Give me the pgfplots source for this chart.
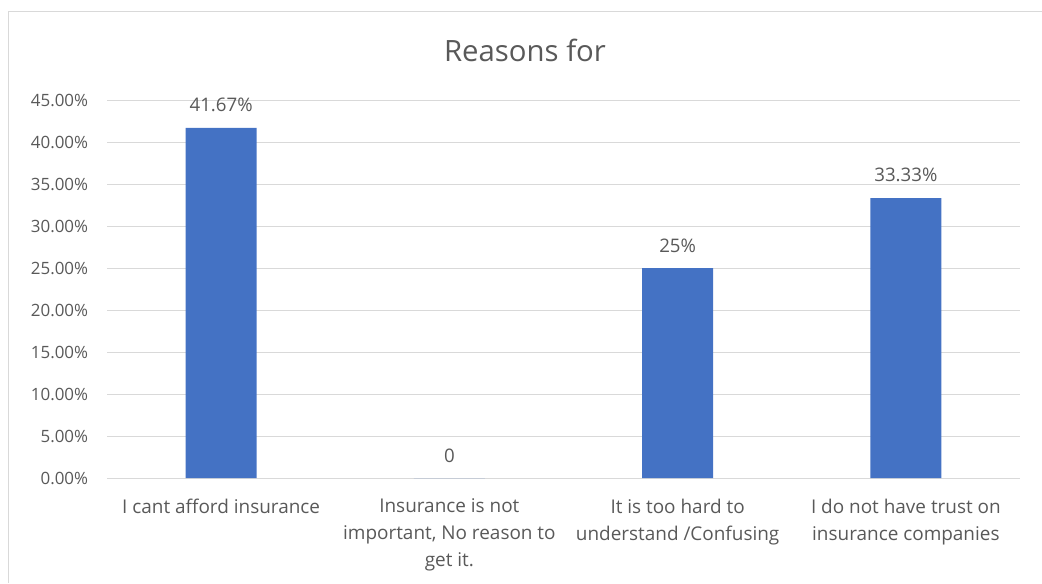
\documentclass[border=0pt]{standalone}
\usepackage{pgfplots}
\pgfplotsset{compat=1.18}
\usepackage{fontspec}
\setmainfont{Open Sans}
\definecolor{barblue}{HTML}{4472C4}
\definecolor{txt}{HTML}{595959}
\definecolor{gridc}{HTML}{D9D9D9}
\begin{document}
\begin{tikzpicture}[x=0.75pt,y=0.75pt]
\path[use as bounding box] (0,0) rectangle (1042,583);
\draw[color=gridc, line width=0.75pt] (8,0) -- (8,571) -- (1042,571);
\node[text=txt, font=\fontsize{22}{26}\selectfont, inner sep=0pt] at (525,533) {Reasons for};
\begin{axis}[
  at={(80.25pt,78.75pt)}, anchor=south west, scale only axis,
  width=684.75pt, height=283.5pt,
  ymin=0, ymax=45, xmin=-0.5, xmax=3.5,
  ytick={0,5,...,45},
  /pgf/number format/assume math mode=true,
  yticklabel={\pgfmathprintnumber[fixed,fixed zerofill,precision=2]{\tick}\%},
  yticklabel style={anchor=east, inner sep=0pt, xshift=-14pt, text=txt, font=\fontsize{12.7}{15}\selectfont},
  xtick={0,1,2,3},
  xticklabels={{I cant afford insurance},{Insurance is not\\important, No reason to\\get it.},{It is too hard to\\understand /Confusing},{I do not have trust on\\insurance companies}},
  xticklabel style={anchor=north, align=center, inner sep=0pt, yshift=-15.5pt, text=txt, font=\fontsize{14.2}{20.25}\selectfont},
  major tick length=0pt,
  axis line style={draw=none},
  ymajorgrids, grid style={color=gridc, line width=0.75pt},
  ybar, bar width=53.25pt,
  nodes near coords,
  point meta=explicit symbolic,
  every node near coord/.append style={anchor=center, yshift=17pt, text=txt, font=\fontsize{14}{16}\selectfont, inner sep=0pt},
]
\addplot[fill=barblue, draw=none] coordinates {
  (0,41.67) [41.67\%]
  (1,0) [0]
  (2,25) [25\%]
  (3,33.33) [33.33\%]
};
\end{axis}
\end{tikzpicture}
\end{document}
